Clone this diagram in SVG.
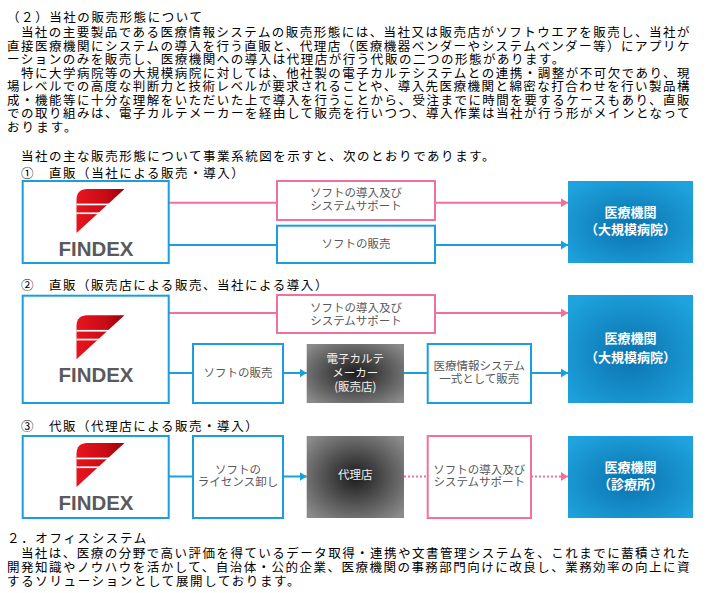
<svg xmlns="http://www.w3.org/2000/svg" xmlns:xlink="http://www.w3.org/1999/xlink" width="715" height="593" viewBox="0 0 715 593">
<style>
.body{font-family:"Noto Sans CJK JP","Noto Sans CJK SC",sans-serif;font-size:12.5px;fill:#000}
.lbl{font-family:"Noto Sans CJK JP","Noto Sans CJK SC",sans-serif;font-size:11.5px;fill:#595959;text-anchor:middle}
.lblw{font-family:"Noto Sans CJK JP","Noto Sans CJK SC",sans-serif;font-size:11.5px;fill:#f2f2f2;text-anchor:middle}
.hosp{font-family:"Noto Sans CJK JP","Noto Sans CJK SC",sans-serif;font-size:13px;font-weight:bold;fill:#fff;text-anchor:middle}
.logo{font-family:"Liberation Sans",Arial,sans-serif;font-size:20px;font-weight:bold;fill:#5a5a5a;text-anchor:middle}
.bbox{fill:#fff;stroke:#1a9fdb;stroke-width:2}
.pbox{fill:#fff;stroke:#f36f9c;stroke-width:2}
.dark{fill:url(#gDark)}
.hbox{fill:url(#gHosp)}
.cb{fill:none;stroke:#1a9fdb;stroke-width:2}
.cp{fill:none;stroke:#f36f9c;stroke-width:2}
.cpd{fill:none;stroke:#f36f9c;stroke-width:2;stroke-dasharray:2 2}
</style>
<defs>
<radialGradient id="gHosp" cx="50%" cy="55%" r="65%">
<stop offset="0" stop-color="#0b72ae"/>
<stop offset="1" stop-color="#1ea3de"/>
</radialGradient>
<radialGradient id="gDark" cx="50%" cy="50%" r="65%">
<stop offset="0" stop-color="#1c1c1c"/>
<stop offset="1" stop-color="#8a8a8a"/>
</radialGradient>
<linearGradient id="gRed" x1="0" y1="0" x2="1" y2="0">
<stop offset="0" stop-color="#e8141e"/>
<stop offset="0.6" stop-color="#c80c16"/>
<stop offset="1" stop-color="#980008"/>
</linearGradient>
<g id="fmark">
<path d="M0,44 L0,11 Q0,0 11,0 L48,0 L0,44 Z" fill="url(#gRed)"/>
<rect x="0" y="14.6" width="40" height="1.7" fill="#fff"/>
<rect x="0" y="23.4" width="30" height="1.7" fill="#fff"/>
</g>
<marker id="ab" markerWidth="8" markerHeight="10" refX="7" refY="5" orient="auto" markerUnits="userSpaceOnUse">
<path d="M0,0.5 L7,5 L0,9.5 Z" fill="#1a9fdb"/>
</marker>
<marker id="ap" markerWidth="8" markerHeight="10" refX="7" refY="5" orient="auto" markerUnits="userSpaceOnUse">
<path d="M0,0.5 L7,5 L0,9.5 Z" fill="#f36f9c"/>
</marker>
</defs>
<rect x="0" y="0" width="715" height="593" fill="#fff"/>

<g id="intro-text">
<text class="body" x="7" y="22" textLength="195" lengthAdjust="spacing">（２）当社の販売形態について</text>
<text class="body" x="20.9" y="37.3" textLength="668.6" lengthAdjust="spacing">当社の主要製品である医療情報システムの販売形態には、当社又は販売店がソフトウエアを販売し、当社が</text>
<text class="body" x="7" y="50.8" textLength="682.5" lengthAdjust="spacing">直接医療機関にシステムの導入を行う直販と、代理店（医療機器ベンダーやシステムベンダー等）にアプリケ</text>
<text class="body" x="7" y="64.3" textLength="557.2" lengthAdjust="spacing">ーションのみを販売し、医療機関への導入は代理店が行う代販の二つの形態があります。</text>
<text class="body" x="20.9" y="77.8" textLength="668.6" lengthAdjust="spacing">特に大学病院等の大規模病院に対しては、他社製の電子カルテシステムとの連携・調整が不可欠であり、現</text>
<text class="body" x="7" y="91.3" textLength="682.5" lengthAdjust="spacing">場レベルでの高度な判断力と技術レベルが要求されることや、導入先医療機関と綿密な打合わせを行い製品構</text>
<text class="body" x="7" y="104.8" textLength="682.5" lengthAdjust="spacing">成・機能等に十分な理解をいただいた上で導入を行うことから、受注までに時間を要するケースもあり、直販</text>
<text class="body" x="7" y="118.3" textLength="682.5" lengthAdjust="spacing">での取り組みは、電子カルテメーカーを経由して販売を行いつつ、導入作業は当社が行う形がメインとなって</text>
<text class="body" x="7" y="131.8" textLength="69.6" lengthAdjust="spacing">おります。</text>
<text class="body" x="20.9" y="160.8" textLength="473.6" lengthAdjust="spacing">当社の主な販売形態について事業系統図を示すと、次のとおりであります。</text>
<text class="body" x="20.9" y="178.1" textLength="222.9" lengthAdjust="spacing">①　直販（当社による販売・導入）</text>
<text class="body" x="20.9" y="289.8" textLength="306.5" lengthAdjust="spacing">②　直販（販売店による販売、当社による導入）</text>
<text class="body" x="20.9" y="430.8" textLength="236.8" lengthAdjust="spacing">③　代販（代理店による販売・導入）</text>
</g>

<g id="connectors">
<line class="cp" x1="168.7" y1="202.7" x2="277" y2="202.7"/>
<line class="cp" x1="435" y1="202.7" x2="568" y2="202.7" marker-end="url(#ap)"/>
<line class="cb" x1="168.7" y1="245" x2="277" y2="245"/>
<line class="cb" x1="435" y1="245" x2="568" y2="245" marker-end="url(#ab)"/>

<line class="cp" x1="168.7" y1="313" x2="277" y2="313"/>
<line class="cp" x1="435" y1="313" x2="568" y2="313" marker-end="url(#ap)"/>
<line class="cb" x1="168.7" y1="373" x2="193" y2="373"/>
<line class="cb" x1="283" y1="373" x2="306.7" y2="373" marker-end="url(#ab)"/>
<line class="cb" x1="404" y1="373" x2="427.7" y2="373"/>
<line class="cb" x1="531" y1="373" x2="568" y2="373" marker-end="url(#ab)"/>

<line class="cb" x1="168.7" y1="476.5" x2="193" y2="476.5"/>
<line class="cb" x1="283" y1="476.5" x2="306.7" y2="476.5" marker-end="url(#ab)"/>
<line class="cpd" x1="404" y1="476.5" x2="427.7" y2="476.5"/>
<line class="cpd" x1="531" y1="476.5" x2="568" y2="476.5" marker-end="url(#ap)"/>
</g>

<g id="r1-findex">
<rect class="bbox" x="22.7" y="181" width="146" height="82"/>
<use xlink:href="#fmark" x="76.5" y="189"/>
<text class="logo" x="96" y="255.5" textLength="75" lengthAdjust="spacingAndGlyphs">FINDEX</text>
</g>
<g id="r1-support">
<rect class="pbox" x="277" y="181" width="158" height="39"/>
<text class="lbl" x="356" y="196.7">ソフトの導入及び</text>
<text class="lbl" x="356" y="209.7">システムサポート</text>
</g>
<g id="r1-sales">
<rect class="bbox" x="277" y="225.7" width="158" height="37.3"/>
<text class="lbl" x="356" y="248.4">ソフトの販売</text>
</g>
<g id="r1-hospital">
<rect class="hbox" x="568" y="181" width="125" height="82"/>
<text class="hosp" x="630.5" y="216.6">医療機関</text>
<text class="hosp" x="630.5" y="234.2">（大規模病院）</text>
</g>

<g id="r2-findex">
<rect class="bbox" x="22.7" y="295.7" width="146" height="107.3"/>
<use xlink:href="#fmark" x="76.5" y="315.3"/>
<text class="logo" x="96" y="381.8" textLength="75" lengthAdjust="spacingAndGlyphs">FINDEX</text>
</g>
<g id="r2-support">
<rect class="pbox" x="277" y="295" width="158" height="38"/>
<text class="lbl" x="356" y="311.7">ソフトの導入及び</text>
<text class="lbl" x="356" y="324.7">システムサポート</text>
</g>
<g id="r2-sales">
<rect class="bbox" x="193" y="344" width="90" height="59"/>
<text class="lbl" x="238" y="377.4">ソフトの販売</text>
</g>
<g id="r2-maker">
<rect class="dark" x="306.7" y="344" width="97.3" height="59"/>
<text class="lblw" x="355.3" y="363.2">電子カルテ</text>
<text class="lblw" x="355.3" y="377.2">メーカー</text>
<text class="lblw" x="355.3" y="391.2">(販売店)</text>
</g>
<g id="r2-system">
<rect class="bbox" x="427.7" y="344" width="103.3" height="59"/>
<text class="lbl" x="479.3" y="369.9">医療情報システム</text>
<text class="lbl" x="479.3" y="382.5">一式として販売</text>
</g>
<g id="r2-hospital">
<rect class="hbox" x="568" y="295" width="125" height="108"/>
<text class="hosp" x="630.5" y="343.2">医療機関</text>
<text class="hosp" x="630.5" y="361.6">（大規模病院）</text>
</g>

<g id="r3-findex">
<rect class="bbox" x="22.7" y="436" width="146" height="82"/>
<use xlink:href="#fmark" x="76.5" y="443"/>
<text class="logo" x="96" y="509.5" textLength="75" lengthAdjust="spacingAndGlyphs">FINDEX</text>
</g>
<g id="r3-license">
<rect class="bbox" x="193" y="436" width="90" height="82"/>
<text class="lbl" x="238" y="473.5">ソフトの</text>
<text class="lbl" x="238" y="485.9">ライセンス卸し</text>
</g>
<g id="r3-agent">
<rect class="dark" x="306.7" y="436" width="97.3" height="82"/>
<text class="lblw" x="355.3" y="479.2">代理店</text>
</g>
<g id="r3-support">
<rect class="pbox" x="427.7" y="436" width="103.3" height="82"/>
<text class="lbl" x="479.3" y="473.5">ソフトの導入及び</text>
<text class="lbl" x="479.3" y="485.9">システムサポート</text>
</g>
<g id="r3-hospital">
<rect class="hbox" x="568" y="436" width="125" height="82"/>
<text class="hosp" x="630.5" y="471.6">医療機関</text>
<text class="hosp" x="630.5" y="488.9">（診療所）</text>
</g>

<g id="office-text">
<text class="body" x="7" y="542.8" textLength="139.3" lengthAdjust="spacing">２．オフィスシステム</text>
<text class="body" x="20.9" y="557.8" textLength="668.6" lengthAdjust="spacing">当社は、医療の分野で高い評価を得ているデータ取得・連携や文書管理システムを、これまでに蓄積された</text>
<text class="body" x="7" y="571.8" textLength="682.5" lengthAdjust="spacing">開発知識やノウハウを活かして、自治体・公的企業、医療機関の事務部門向けに改良し、業務効率の向上に資</text>
<text class="body" x="7" y="585.8" textLength="292.5" lengthAdjust="spacing">するソリューションとして展開しております。</text>
</g>
</svg>
